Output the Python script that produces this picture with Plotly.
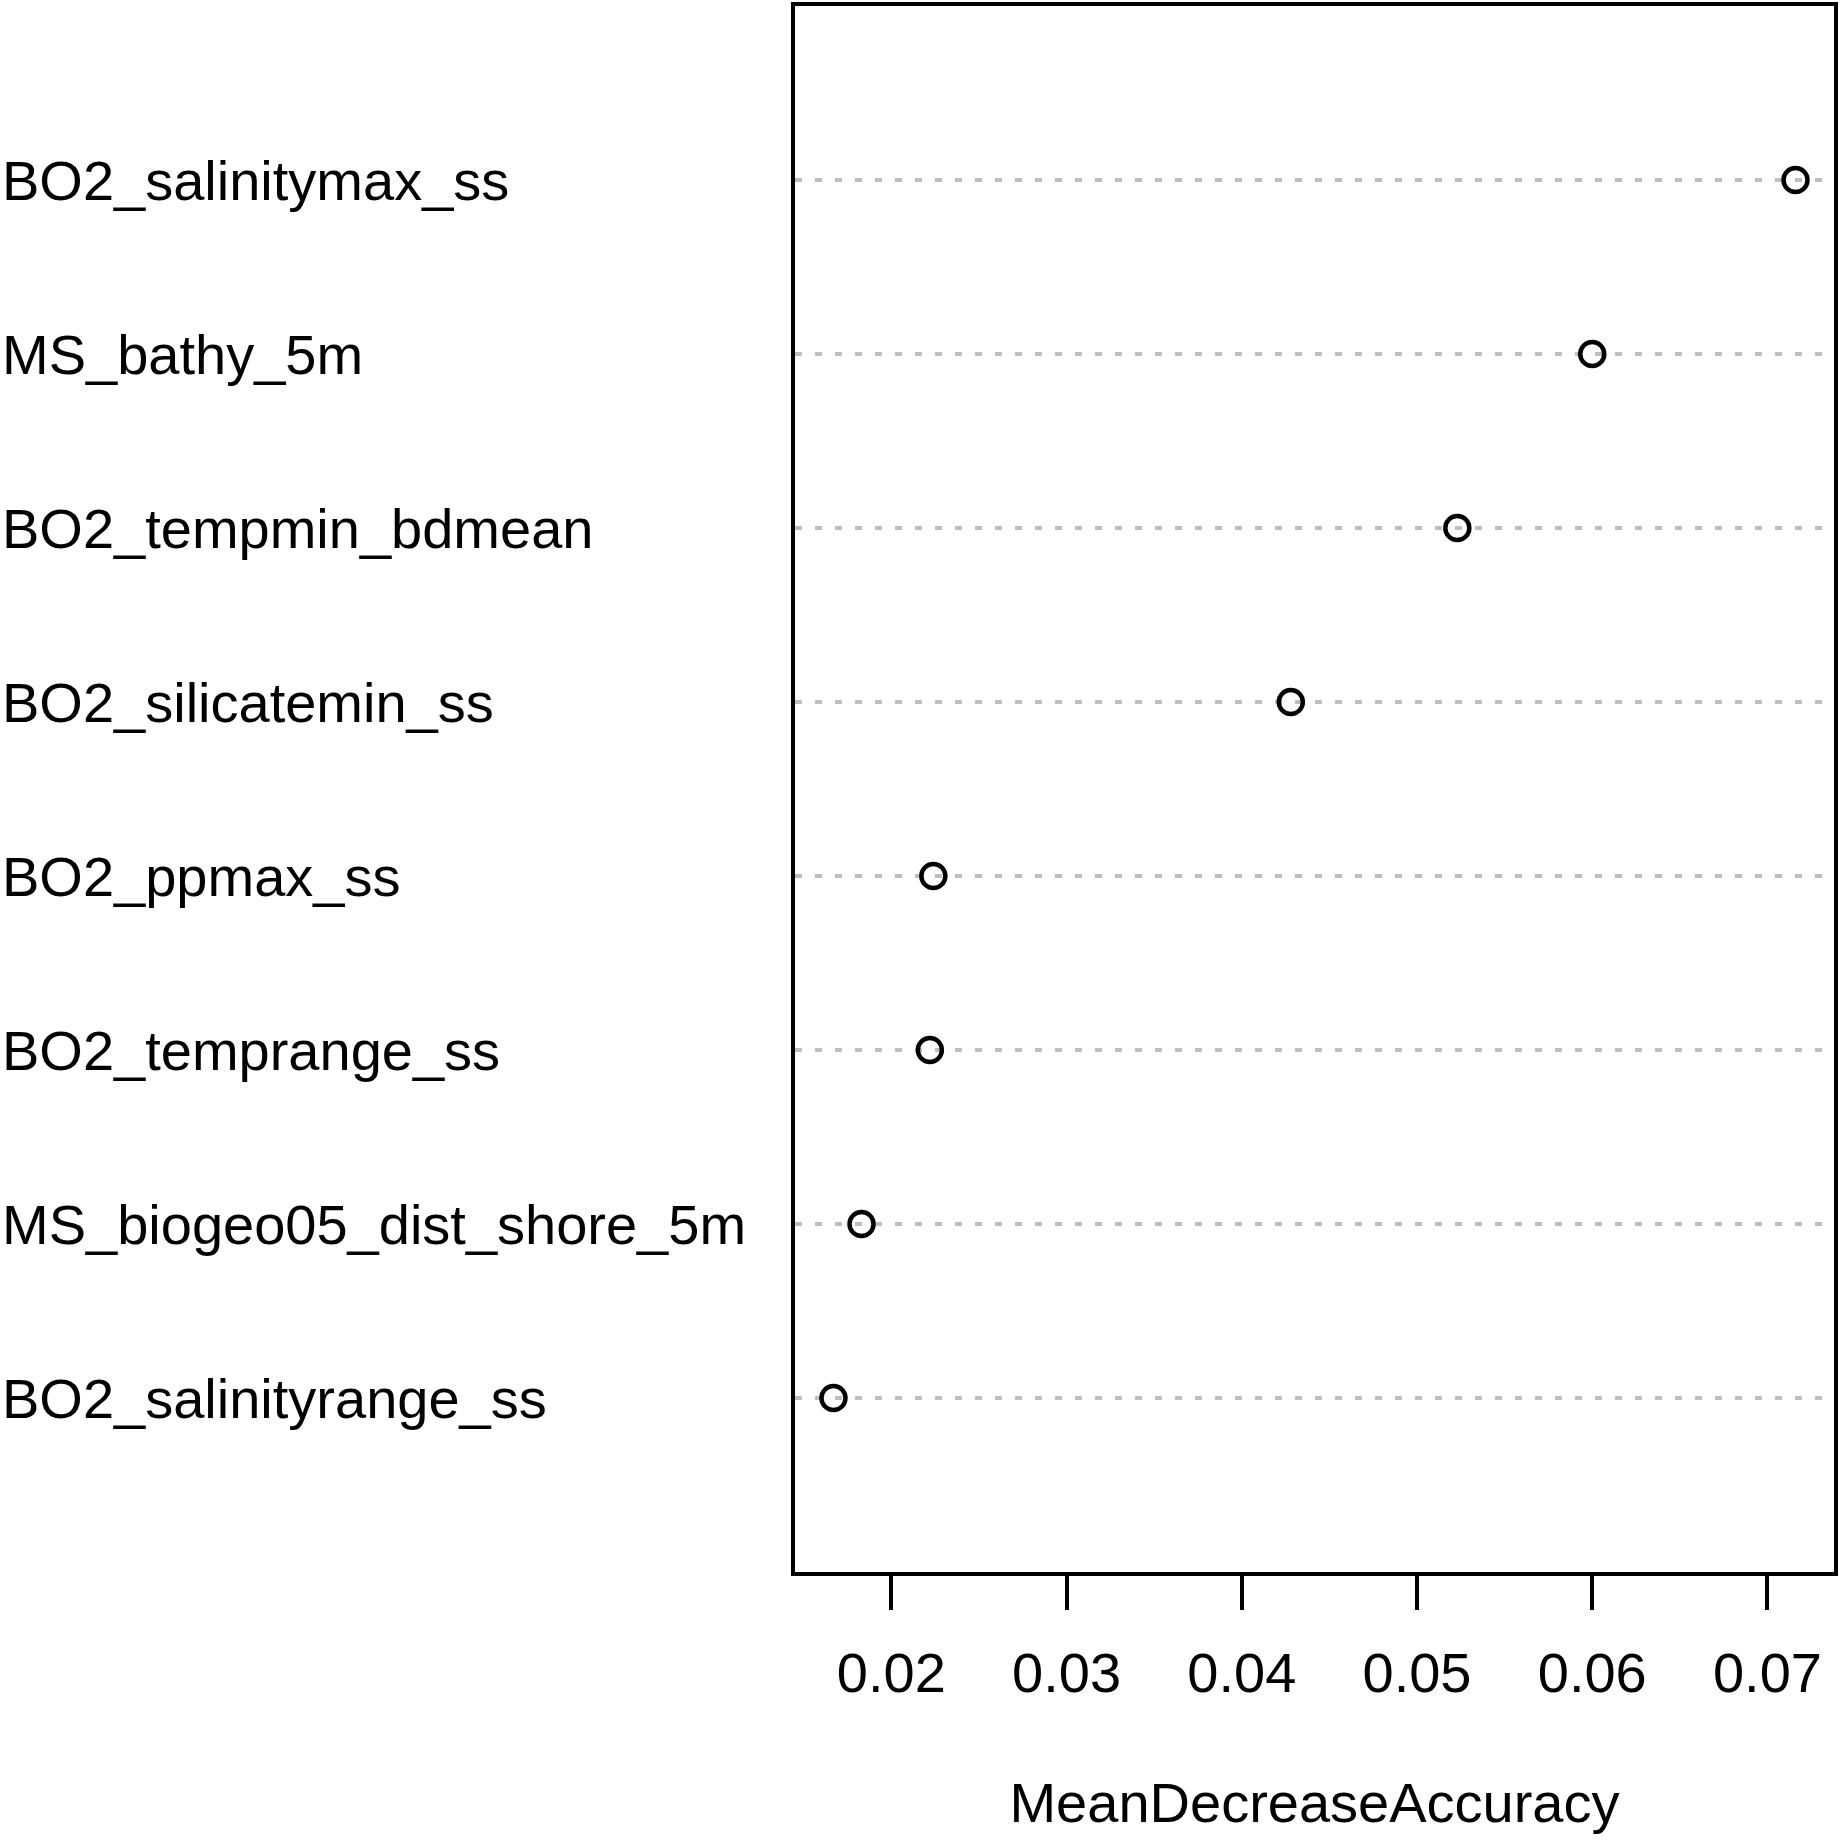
"""
Variable importance dot chart (MeanDecreaseAccuracy)
"""
import plotly.graph_objects as go

# variables, bottom to top
variables = [
    "BO2_salinityrange_ss",
    "MS_biogeo05_dist_shore_5m",
    "BO2_temprange_ss",
    "BO2_ppmax_ss",
    "BO2_silicatemin_ss",
    "BO2_tempmin_bdmean",
    "MS_bathy_5m",
    "BO2_salinitymax_ss",
]
mda = [0.0167, 0.0183, 0.0222, 0.0224, 0.0428, 0.0523, 0.0600, 0.0716]
tick_vals = [0.02, 0.03, 0.04, 0.05, 0.06, 0.07]
tick_text = ["0.02", "0.03", "0.04", "0.05", "0.06", "0.07"]

FONT = "Liberation Sans, Arial, sans-serif"

# R style 4% extension of the data range
span = max(mda) - min(mda)
x_range = [min(mda) - 0.04 * span, max(mda) + 0.04 * span]

fig = go.Figure()
fig.add_trace(go.Scatter(
    x=mda,
    y=variables,
    mode="markers",
    marker=dict(symbol="circle-open", size=24, color="black",
                line=dict(width=4.5, color="black")),
    showlegend=False,
))

# left aligned variable names
for name in variables:
    fig.add_annotation(
        x=-0.7652, xref="paper", y=name, yref="y",
        text=name, showarrow=False, xanchor="left", yanchor="middle",
        font=dict(family=FONT, size=56, color="black"),
    )

fig.update_layout(
    width=1840, height=1840,
    margin=dict(l=795, r=4, t=2, b=268),
    paper_bgcolor="white", plot_bgcolor="white",
    font=dict(family=FONT, size=56, color="black"),
)
fig.update_xaxes(
    range=x_range,
    tickvals=tick_vals, ticktext=tick_text,
    ticks="outside", ticklen=34, tickwidth=4, tickcolor="black",
    ticklabelstandoff=15,
    showline=True, mirror=True, linewidth=4, linecolor="black",
    showgrid=False, zeroline=False,
    title=dict(text="MeanDecreaseAccuracy", standoff=81,
               font=dict(family=FONT, size=56)),
    tickfont=dict(family=FONT, size=56),
)
fig.update_yaxes(
    type="category", categoryorder="array", categoryarray=variables,
    range=[-1, len(variables)],
    showticklabels=False, ticks="",
    showline=True, mirror=True, linewidth=4, linecolor="black",
    showgrid=True, gridcolor="#BEBEBE", gridwidth=4, griddash="7px,13px",
    zeroline=False,
)

fig.write_html("out.html", config={"displayModeBar": False},
               post_script="document.body.style.margin='0';")
